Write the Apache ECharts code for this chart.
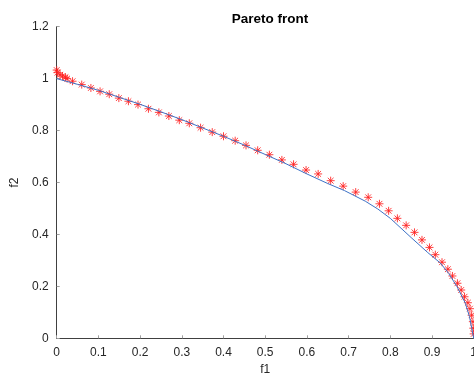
<!DOCTYPE html>
<html>
<head>
<meta charset="utf-8">
<script src="https://cdn.jsdelivr.net/npm/echarts@6/dist/echarts.min.js"></script>
<style>
  html, body { margin: 0; padding: 0; background: #fff; }
  #chart { width: 474px; height: 376px; }
</style>
</head>
<body>
<div id="chart"></div>
<script>
// red stars: obtained solution
const starF1 = [0, 0.002, 0.008, 0.014, 0.021, 0.025, 0.038, 0.060, 0.082, 0.104, 0.126, 0.149,
  0.172, 0.195, 0.220, 0.245, 0.269, 0.294, 0.318, 0.345, 0.373, 0.400, 0.428, 0.454, 0.482,
  0.510, 0.540, 0.568, 0.598, 0.627, 0.657, 0.687, 0.717, 0.747, 0.774, 0.796, 0.817, 0.838,
  0.858, 0.876, 0.894, 0.908, 0.924, 0.938, 0.949, 0.961, 0.970, 0.978, 0.986, 0.991, 0.995,
  0.998, 0.999, 1.0];
const starF2 = [1.033, 1.023, 1.015, 1.010, 1.005, 1.000, 0.990, 0.977, 0.964, 0.951, 0.940, 0.925,
  0.913, 0.900, 0.884, 0.870, 0.856, 0.840, 0.828, 0.811, 0.794, 0.778, 0.761, 0.743, 0.724,
  0.707, 0.687, 0.670, 0.648, 0.633, 0.607, 0.586, 0.563, 0.543, 0.518, 0.491, 0.462, 0.435,
  0.408, 0.379, 0.350, 0.322, 0.293, 0.266, 0.240, 0.212, 0.186, 0.160, 0.137, 0.114, 0.089,
  0.064, 0.039, 0.017];

// blue line: true Pareto front
const lineF1 = [0, 0.05, 0.1, 0.15, 0.2, 0.25, 0.3, 0.35, 0.4, 0.45, 0.5, 0.55, 0.6, 0.65,
  0.69, 0.74, 0.77, 0.8, 0.85, 0.89, 0.92, 0.94, 0.96, 0.98, 0.99, 1.0];
const lineF2 = [1.0, 0.978, 0.955, 0.928, 0.901, 0.872, 0.842, 0.810, 0.778, 0.744, 0.708, 0.672,
  0.633, 0.596, 0.569, 0.528, 0.498, 0.462, 0.388, 0.330, 0.290, 0.250, 0.199, 0.135, 0.083, 0.0];

const xTicks = [0, 0.1, 0.2, 0.3, 0.4, 0.5, 0.6, 0.7, 0.8, 0.9, 1];
const yTicks = [0, 0.2, 0.4, 0.6, 0.8, 1, 1.2];

const stars = starF1.map((x, i) => [x, starF2[i]]);
const front = lineF1.map((x, i) => [x, lineF2[i]]);

const font = 'Liberation Sans, Arial, sans-serif';
const starPath = 'path://M0,-5L0,5M-5,0L5,0M-3.6,-3.6L3.6,3.6M-3.6,3.6L3.6,-3.6';

const chart = echarts.init(document.getElementById('chart'));
chart.setOption({
  animation: false,
  title: {
    text: 'Pareto front',
    left: 265,
    textAlign: 'center',
    top: 7,
    textStyle: { fontFamily: font, fontSize: 13.5, fontWeight: 'bold', color: '#000' }
  },
  grid: { left: 56.7, right: 0.3, top: 26.7, bottom: 37.7, outerBoundsMode: 'none', containLabel: false },
  xAxis: {
    type: 'value',
    min: xTicks[0],
    max: xTicks[xTicks.length - 1],
    interval: 0.1,
    name: 'f1',
    nameLocation: 'middle',
    nameGap: 22,
    nameTextStyle: { fontFamily: font, fontSize: 12, color: '#262626' },
    axisLine: { lineStyle: { color: '#404040', width: 1 } },
    axisTick: { inside: true, length: 3, lineStyle: { color: '#a0a0a0' } },
    axisLabel: { fontFamily: font, fontSize: 12, color: '#262626', margin: 8 },
    splitLine: { show: false }
  },
  yAxis: {
    type: 'value',
    min: yTicks[0],
    max: yTicks[yTicks.length - 1],
    interval: 0.2,
    name: 'f2',
    nameLocation: 'middle',
    nameGap: 32,
    nameTextStyle: { fontFamily: font, fontSize: 12, color: '#262626' },
    axisLine: { show: true, lineStyle: { color: '#404040', width: 1 } },
    axisTick: { show: true, inside: true, length: 3, lineStyle: { color: '#a0a0a0' } },
    axisLabel: { fontFamily: font, fontSize: 12, color: '#262626', margin: 8 },
    splitLine: { show: false }
  },
  series: [
    {
      type: 'scatter',
      data: stars,
      symbol: starPath,
      symbolSize: 8,
      itemStyle: { color: 'transparent', borderColor: '#ff2020', borderWidth: 1, opacity: 0.85 },
      z: 2
    },
    {
      type: 'line',
      data: front,
      showSymbol: false,
      smooth: false,
      lineStyle: { color: '#3d72c6', width: 1 },
      z: 3
    }
  ]
});
</script>
</body>
</html>
